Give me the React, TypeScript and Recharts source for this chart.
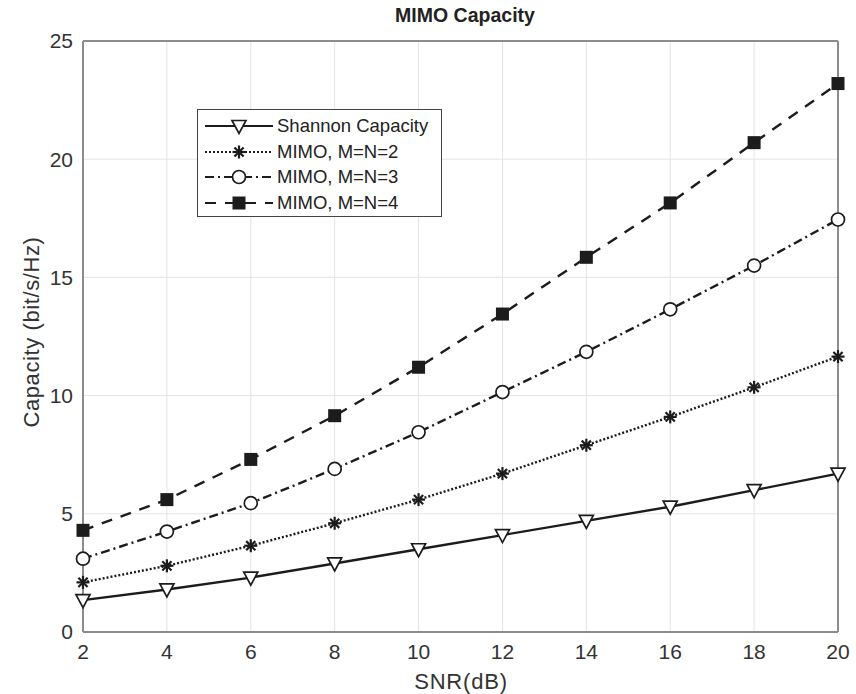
import React from 'react'
import { CartesianGrid, Line, LineChart, ReferenceLine, XAxis, YAxis } from 'recharts'

const snrDb = [2, 4, 6, 8, 10, 12, 14, 16, 18, 20]
const shannon = [1.35, 1.8, 2.3, 2.9, 3.5, 4.1, 4.7, 5.3, 6.0, 6.7]
const mimo2 = [2.1, 2.8, 3.65, 4.6, 5.6, 6.7, 7.9, 9.1, 10.35, 11.65]
const mimo3 = [3.1, 4.25, 5.45, 6.9, 8.45, 10.15, 11.85, 13.65, 15.5, 17.45]
const mimo4 = [4.3, 5.6, 7.3, 9.15, 11.2, 13.45, 15.85, 18.15, 20.7, 23.2]
const xTicks = [2, 4, 6, 8, 10, 12, 14, 16, 18, 20]
const yTicks = [0, 5, 10, 15, 20, 25]

const data = snrDb.map((x, i) => ({
  x,
  shannon: shannon[i],
  mimo2: mimo2[i],
  mimo3: mimo3[i],
  mimo4: mimo4[i],
}))

const INK = '#1c1c1c'
const FONT = '"Liberation Sans", Arial, sans-serif'

type Shape = 'tri' | 'star' | 'circle' | 'square'

function Marker({ cx, cy, shape }: { cx: number; cy: number; shape: Shape }) {
  if (cx == null || cy == null) return null
  if (shape === 'tri') {
    return (
      <path
        d={`M${cx - 7},${cy - 5.5} L${cx + 7},${cy - 5.5} L${cx},${cy + 7.5} Z`}
        fill="#fff"
        stroke={INK}
        strokeWidth={1.7}
      />
    )
  }
  if (shape === 'circle') {
    return <circle cx={cx} cy={cy} r={6.5} fill="#fff" stroke={INK} strokeWidth={1.7} />
  }
  if (shape === 'square') {
    return <rect x={cx - 6.5} y={cy - 6.5} width={13} height={13} fill={INK} />
  }
  const r = 6.5
  const lines = [0, 45, 90, 135].map((a) => {
    const rad = (a * Math.PI) / 180
    return (
      <line
        key={a}
        x1={cx - r * Math.cos(rad)}
        y1={cy - r * Math.sin(rad)}
        x2={cx + r * Math.cos(rad)}
        y2={cy + r * Math.sin(rad)}
        stroke={INK}
        strokeWidth={2.2}
      />
    )
  })
  return <g>{lines}</g>
}

const series: { key: string; name: string; dash: string; shape: Shape }[] = [
  { key: 'shannon', name: 'Shannon Capacity', dash: '', shape: 'tri' },
  { key: 'mimo2', name: 'MIMO, M=N=2', dash: '2 2', shape: 'star' },
  { key: 'mimo3', name: 'MIMO, M=N=3', dash: '9 4 2 4', shape: 'circle' },
  { key: 'mimo4', name: 'MIMO, M=N=4', dash: '11 9', shape: 'square' },
]

function LegendBox() {
  return (
    <div
      style={{
        position: 'absolute',
        left: 197,
        top: 109,
        width: 245,
        height: 108,
        border: '1.5px solid #444',
        background: '#fff',
        boxSizing: 'border-box',
        fontFamily: FONT,
        fontSize: 18.5,
        color: '#222',
      }}
    >
      {series.map((s, i) => (
        <div
          key={s.key}
          style={{ position: 'absolute', left: 5, top: 5 + i * 25.5, height: 22, display: 'flex', alignItems: 'center' }}
        >
          <svg width={72} height={22}>
            <line x1={2} y1={11} x2={70} y2={11} stroke={INK} strokeWidth={2.2} strokeDasharray={s.dash || undefined} />
            <Marker cx={36} cy={11} shape={s.shape} />
          </svg>
          <span style={{ marginLeft: 2, whiteSpace: 'nowrap' }}>{s.name}</span>
        </div>
      ))}
    </div>
  )
}

export default function App() {
  return (
    <div style={{ position: 'absolute', left: 0, top: 0, width: 856, height: 694, background: '#fff' }}>
      <LineChart
        width={856}
        height={694}
        data={data}
        margin={{ top: 41, right: 18, left: 33, bottom: 32 }}
      >
        <CartesianGrid stroke="#e4e4e4" strokeWidth={1} />
        <XAxis
          dataKey="x"
          type="number"
          domain={[2, 20]}
          ticks={xTicks}
          height={30}
          axisLine={{ stroke: '#8c8c8c', strokeWidth: 2 }}
          tickLine={false}
          tickMargin={6}
          tick={{ fontFamily: FONT, fontSize: 21, fill: '#333' }}
        />
        <YAxis
          type="number"
          domain={[0, 25]}
          ticks={yTicks}
          width={50}
          axisLine={{ stroke: '#8c8c8c', strokeWidth: 2 }}
          tickLine={false}
          tickMargin={4}
          tick={{ fontFamily: FONT, fontSize: 21, fill: '#333' }}
        />
        <ReferenceLine y={25} stroke="#8c8c8c" strokeWidth={2} />
        <ReferenceLine x={20} stroke="#8c8c8c" strokeWidth={2} />
        {series.map((s) => (
          <Line
            key={s.key}
            dataKey={s.key}
            name={s.name}
            type="linear"
            stroke={INK}
            strokeWidth={2.4}
            strokeDasharray={s.dash || undefined}
            isAnimationActive={false}
            dot={(p: any) => <Marker key={`${s.key}-${p.index}`} cx={p.cx} cy={p.cy} shape={s.shape} />}
            activeDot={false}
          />
        ))}
      </LineChart>
      <div
        style={{
          position: 'absolute',
          left: 465 - 150,
          width: 300,
          top: 4,
          textAlign: 'center',
          fontFamily: FONT,
          fontSize: 19.5,
          fontWeight: 'bold',
          color: '#222',
        }}
      >
        MIMO Capacity
      </div>
      <div
        style={{
          position: 'absolute',
          left: 461 - 100,
          width: 200,
          top: 669,
          textAlign: 'center',
          fontFamily: FONT,
          fontSize: 22,
          letterSpacing: 0.8,
          color: '#333',
        }}
      >
        SNR(dB)
      </div>
      <div
        style={{
          position: 'absolute',
          left: 32 - 120,
          top: 332 - 13,
          width: 240,
          height: 26,
          textAlign: 'center',
          transform: 'rotate(-90deg)',
          fontFamily: FONT,
          fontSize: 22,
          letterSpacing: 0.6,
          color: '#333',
        }}
      >
        Capacity (bit/s/Hz)
      </div>
      <LegendBox />
    </div>
  )
}
